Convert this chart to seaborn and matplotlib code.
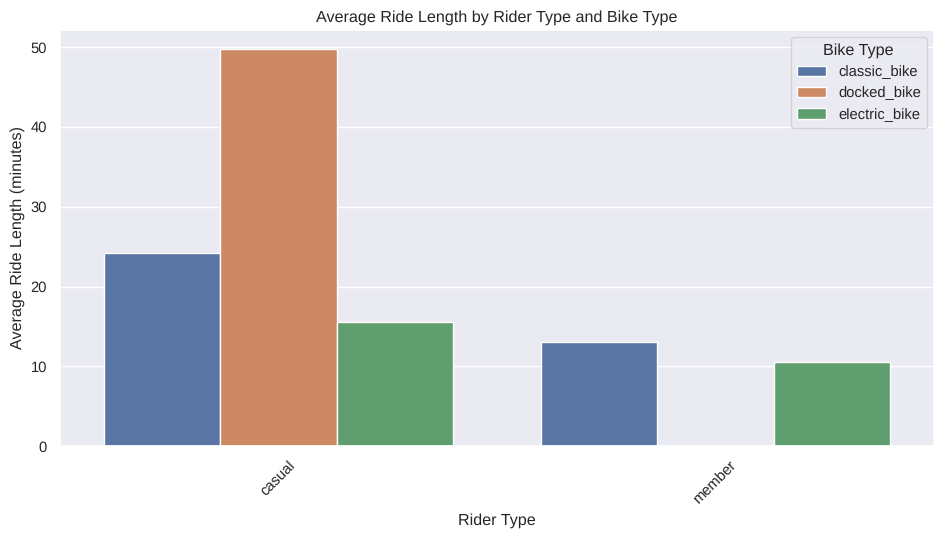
import matplotlib
matplotlib.use('Agg')
import matplotlib.pyplot as plt
import pandas as pd
import seaborn as sns

rider_types = ['casual', 'casual', 'casual', 'member', 'member']
bike_types = ['classic_bike', 'docked_bike', 'electric_bike', 'classic_bike', 'electric_bike']
ride_lengths = [24.2, 49.7, 15.6, 13.1, 10.6]

df = pd.DataFrame({'rider': rider_types, 'bike': bike_types, 'length': ride_lengths})

sns.set_theme(font_scale=0.965)
plt.rcParams['font.family'] = ['Liberation Sans', 'DejaVu Sans']
plt.rcParams['text.hinting'] = 'no_hinting'

fig, ax = plt.subplots(figsize=(9.44, 5.37), dpi=100)
sns.barplot(data=df, x='rider', y='length', hue='bike',
            hue_order=['classic_bike', 'docked_bike', 'electric_bike'], ax=ax)
ax.set_title('Average Ride Length by Rider Type and Bike Type', fontsize=11.6)
ax.set_xlabel('Rider Type')
ax.set_ylabel('Average Ride Length (minutes)')
plt.setp(ax.get_xticklabels(), rotation=45)
ax.legend(title='Bike Type', loc='upper right')
fig.subplots_adjust(left=0.0636, right=0.9894, top=0.9450, bottom=0.1690)
fig.savefig('out.png', dpi=100)
